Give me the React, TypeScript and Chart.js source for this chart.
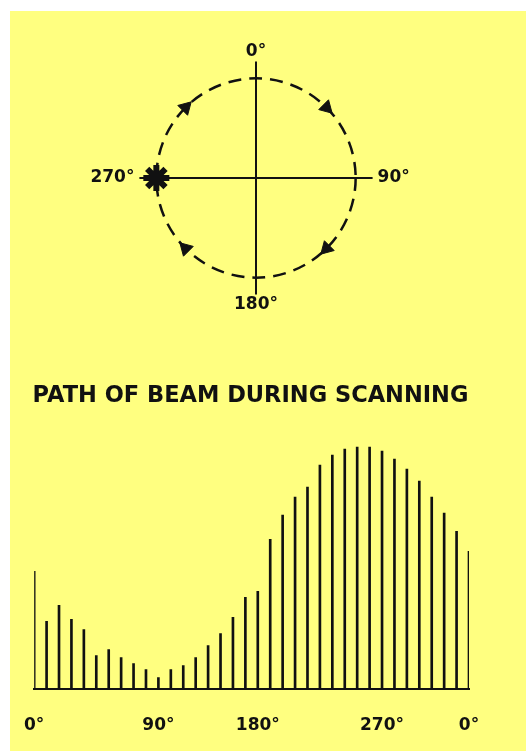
import React, { useEffect, useRef } from 'react';
import Chart from 'chart.js/auto';

// ---- polar (scan path) diagram ----
const polarLabels = ['0°', '', '90°', '', '180°', '', '270°', ''];
const arrowRadius = [null, 100, null, 100, null, 100, null, 100];
const arrowRotation = [0, 135, 0, 225, 0, 315, 0, 45];
const beamRadius = [null, null, null, null, null, null, 100, null];
const scanCircleValue = 100;
const polarMax = 117;

// ---- beam amplitude during scanning ----
const scanAngleLabels = [
  '0°', '', '', '', '', '', '', '', '', '',
  '90°', '', '', '', '', '', '', '',
  '180°', '', '', '', '', '', '', '', '', '',
  '270°', '', '', '', '', '', '',
  '0°',
];
const beamAmplitude = [
  117, 67, 83, 69, 59, 33, 39, 31, 25, 19,
  11, 19, 23, 31, 43, 55, 71, 91, 97, 149,
  173, 191, 201, 223, 233, 239, 241, 241, 237, 229,
  219, 207, 191, 175, 157, 137,
];
const amplitudeMax = 250;

const INK = '#111111';
const PAPER = '#FFFF80';
const labelFont = { family: 'DejaVu Sans', weight: 'bold' as const, size: 17 };

export default function App() {
  const polarRef = useRef<HTMLCanvasElement>(null);
  const barRef = useRef<HTMLCanvasElement>(null);

  useEffect(() => {
    const polar = new Chart(polarRef.current!, {
      type: 'radar',
      data: {
        labels: polarLabels,
        datasets: [
          {
            data: arrowRadius as any,
            showLine: false,
            borderColor: 'transparent',
            backgroundColor: 'transparent',
            fill: false,
            pointStyle: 'triangle',
            pointRadius: 8,
            pointBackgroundColor: INK,
            pointBorderColor: INK,
            pointBorderWidth: 1,
            pointRotation: arrowRotation,
          } as any,
          {
            data: beamRadius as any,
            showLine: false,
            borderColor: 'transparent',
            backgroundColor: 'transparent',
            fill: false,
            pointStyle: 'star',
            pointRadius: 13,
            pointBackgroundColor: INK,
            pointBorderColor: INK,
            pointBorderWidth: 6,
          } as any,
        ],
      },
      options: {
        animation: false,
        responsive: false,
        events: [],
        plugins: { legend: { display: false }, tooltip: { enabled: false } },
        scales: {
          r: {
            min: 0,
            max: polarMax,
            ticks: { display: false },
            afterBuildTicks: (scale: any) => {
              scale.ticks = [{ value: 0 }, { value: scanCircleValue }];
            },
            grid: { circular: true, color: INK, lineWidth: 2.5 },
            border: { dash: [13, 8] },
            angleLines: {
              color: INK,
              lineWidth: (c: any) => (c.index % 2 === 0 ? 2 : 0),
            },
            pointLabels: {
              color: INK,
              font: labelFont,
              padding: (c: any) => (c.index % 4 === 2 ? 5 : 0),
            },
          } as any,
        },
      },
    });

    const bar = new Chart(barRef.current!, {
      type: 'bar',
      data: {
        labels: scanAngleLabels,
        datasets: [
          {
            data: beamAmplitude,
            backgroundColor: INK,
            borderWidth: 0,
            barThickness: 2,
          },
        ],
      },
      options: {
        animation: false,
        responsive: false,
        events: [],
        layout: { padding: { left: 35, right: 44, top: 0, bottom: 0 } },
        plugins: {
          legend: { display: false },
          tooltip: { enabled: false },
          title: {
            display: true,
            text: 'PATH OF BEAM DURING SCANNING',
            color: INK,
            font: { family: 'DejaVu Sans', weight: 'bold', size: 22.5 },
            padding: { top: 13, bottom: 28 },
          },
        },
        scales: {
          x: {
            offset: false,
            grid: { display: false, drawTicks: false },
            border: { display: true, color: INK, width: 2 },
            ticks: {
              autoSkip: false,
              maxRotation: 0,
              minRotation: 0,
              padding: 27,
              color: INK,
              font: labelFont,
            },
          },
          y: { display: false, min: 0, max: amplitudeMax },
        },
      },
    });

    return () => {
      polar.destroy();
      bar.destroy();
    };
  }, []);

  return (
    <div
      style={{
        position: 'absolute',
        left: 10,
        top: 11,
        width: 516,
        height: 740,
        background: PAPER,
        overflow: 'hidden',
      }}
    >
      <canvas
        ref={polarRef}
        width={400}
        height={275}
        style={{ position: 'absolute', left: 46, top: 30, width: 400, height: 275 }}
      />
      <canvas
        ref={barRef}
        width={516}
        height={393}
        style={{ position: 'absolute', left: -13, top: 359, width: 516, height: 393 }}
      />
    </div>
  );
}
